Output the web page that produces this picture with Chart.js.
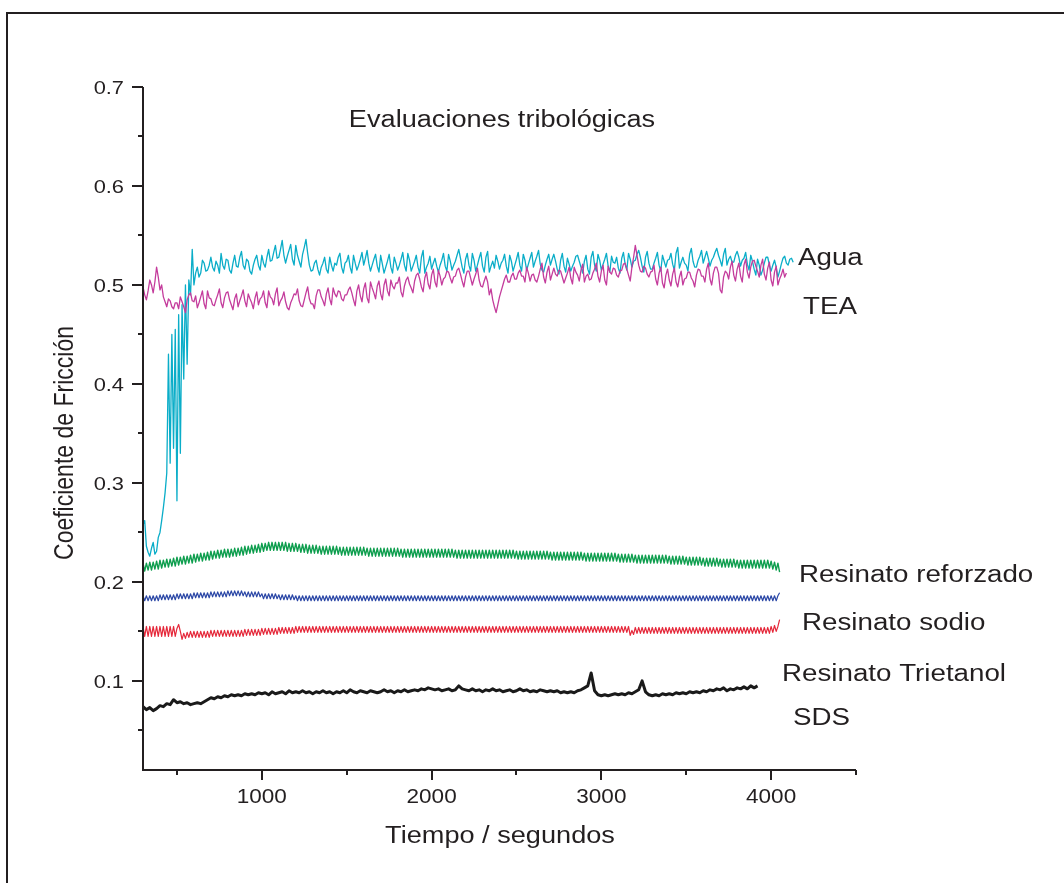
<!DOCTYPE html>
<html><head><meta charset="utf-8">
<script src="https://cdn.jsdelivr.net/npm/chart.js@4.4.1/dist/chart.umd.min.js"></script>
<style>html,body{margin:0;padding:0;background:#fff;overflow:hidden}canvas{display:block}</style>
</head><body>
<canvas id="c" width="1064" height="883"></canvas>
<script>
// ---------- DATA ----------
const xTickValues = [1000, 2000, 3000, 4000];
const xTickLabels = ['1000', '2000', '3000', '4000'];
const xMinorTicks = [500, 1500, 2500, 3500, 4500];
const yTickValues = [0.1, 0.2, 0.3, 0.4, 0.5, 0.6, 0.7];
const yTickLabels = ['0.1', '0.2', '0.3', '0.4', '0.5', '0.6', '0.7'];
const yMinorTicks = [0.05, 0.15, 0.25, 0.35, 0.45, 0.55, 0.65];

const seriesNames = ['Agua', 'TEA', 'Resinato reforzado', 'Resinato sodio', 'Resinato Trietanol', 'SDS'];

// Agua: samples every 10 s from 300 s
const aguaStart = 300, aguaStep = 10;
const agua = [
.258,.262,.236,.230,.226,.234,.240,.228,.231,.245,
.250,.262,.275,.290,.310,.430,.320,.450,.335,.455,
.282,.470,.330,.480,.405,.500,.420,.505,.490,.536,
.500,.512,.518,.508,.512,.525,.522,.514,.515,.520,
.528,.518,.514,.524,.520,.512,.532,.520,.516,.526,
.525,.515,.512,.522,.530,.519,.518,.528,.534,.520,
.516,.526,.524,.514,.511,.520,.526,.530,.520,.515,
.530,.522,.518,.528,.536,.524,.525,.533,.540,.527,
.528,.536,.545,.530,.522,.529,.535,.541,.526,.520,
.540,.530,.524,.518,.531,.538,.546,.532,.520,.514,
.515,.522,.525,.516,.510,.518,.522,.528,.516,.512,
.528,.520,.514,.522,.520,.528,.532,.518,.512,.522,
.524,.530,.518,.512,.530,.522,.515,.520,.526,.533,
.520,.527,.535,.522,.514,.520,.526,.531,.519,.513,
.530,.521,.512,.518,.524,.531,.518,.512,.528,.522,
.515,.520,.526,.533,.520,.514,.532,.525,.514,.519,
.524,.530,.518,.512,.528,.535,.512,.518,.522,.529,
.516,.522,.527,.519,.513,.520,.525,.532,.519,.514,
.531,.524,.515,.520,.524,.530,.536,.527,.518,.512,
.526,.532,.520,.514,.532,.525,.514,.520,.527,.533,
.519,.513,.528,.534,.513,.519,.524,.517,.530,.524,
.516,.522,.525,.531,.519,.512,.530,.524,.514,.520,
.526,.533,.520,.514,.531,.525,.515,.521,.527,.533,
.518,.524,.529,.535,.521,.515,.513,.520,.526,.531,
.520,.526,.531,.524,.516,.511,.525,.532,.519,.513,
.527,.521,.514,.519,.523,.529,.530,.524,.518,.512,
.524,.530,.516,.511,.528,.534,.520,.514,.531,.525,
.515,.521,.526,.532,.519,.513,.529,.523,.522,.528,
.517,.512,.527,.533,.521,.515,.532,.526,.518,.524,
.525,.531,.535,.528,.519,.513,.528,.534,.522,.516,
.516,.522,.527,.533,.520,.514,.530,.524,.518,.525,
.526,.532,.521,.515,.532,.538,.517,.523,.528,.522,
.520,.514,.531,.537,.524,.518,.518,.525,.529,.535,
.522,.528,.534,.527,.519,.525,.528,.533,.537,.530,
.525,.519,.531,.537,.520,.526,.529,.523,.523,.530,
.534,.528,.519,.525,.527,.533,.521,.515,.530,.524,
.516,.510,.526,.520,.510,.515,.522,.528,.528,.520,
.514,.520,.525,.518,.508,.514,.521,.527,.529,.522,
.520,.526,.527,.523
];

// TEA: samples every 10 s from 300 s
const teaStart = 300, teaStep = 10;
const tea = [
.498,.490,.485,.494,.505,.500,.492,.503,.518,.508,
.495,.500,.488,.483,.478,.486,.484,.478,.476,.482,
.482,.476,.488,.483,.478,.472,.485,.490,.492,.484,
.483,.489,.477,.482,.488,.494,.481,.476,.494,.487,
.486,.480,.479,.485,.490,.496,.482,.477,.487,.492,
.493,.485,.480,.475,.486,.491,.478,.484,.489,.495,
.484,.478,.491,.486,.482,.476,.487,.493,.480,.486,
.488,.494,.482,.477,.494,.488,.486,.480,.491,.497,
.479,.484,.487,.493,.483,.477,.475,.482,.486,.491,
.490,.496,.484,.479,.478,.485,.492,.498,.486,.481,
.481,.476,.489,.495,.495,.488,.484,.479,.491,.497,
.486,.480,.497,.491,.488,.494,.493,.486,.484,.490,
.490,.495,.498,.492,.485,.479,.494,.500,.489,.483,
.496,.502,.487,.482,.503,.497,.492,.486,.499,.504,
.491,.485,.500,.506,.494,.489,.505,.499,.496,.502,
.502,.508,.493,.488,.499,.505,.508,.501,.497,.492,
.504,.510,.512,.506,.498,.493,.507,.513,.501,.496,
.510,.516,.503,.498,.515,.509,.500,.506,.508,.514,
.513,.507,.502,.508,.509,.515,.517,.511,.504,.498,
.508,.514,.514,.507,.500,.506,.511,.517,.505,.499,
.498,.504,.509,.503,.490,.496,.485,.478,.472,.480,
.488,.494,.500,.506,.510,.503,.503,.509,.512,.506,
.506,.512,.515,.509,.509,.503,.518,.512,.504,.510,
.511,.505,.503,.509,.516,.522,.508,.502,.513,.519,
.505,.511,.517,.511,.509,.515,.514,.508,.502,.507,
.512,.518,.507,.501,.518,.513,.510,.504,.515,.521,
.503,.509,.511,.505,.506,.512,.516,.522,.509,.503,
.514,.520,.505,.500,.519,.513,.511,.517,.516,.510,
.508,.514,.515,.521,.522,.516,.510,.504,.518,.528,
.540,.530,.520,.514,.513,.519,.517,.511,.508,.513,
.514,.520,.506,.500,.512,.518,.502,.497,.510,.516,
.505,.499,.511,.517,.503,.498,.508,.514,.500,.506,
.507,.513,.513,.507,.504,.498,.510,.516,.515,.509,
.509,.503,.516,.522,.506,.500,.512,.518,.518,.512,
.495,.492,.508,.514,.512,.506,.518,.524,.510,.504,
.516,.522,.509,.503,.520,.526,.513,.507,.518,.524,
.525,.519,.514,.508,.520,.526,.511,.505,.517,.523,
.505,.499,.513,.519,.500,.506,.510,.516,.508,.512
];

// Resinato reforzado: samples every 10 s from 300 s
const reforzadoStart = 300, reforzadoStep = 10;
const reforzado = [
.219,.211,.219,.212,.220,.212,.220,.213,.221,.213,
.222,.214,.222,.215,.223,.215,.223,.216,.224,.216,
.225,.217,.225,.218,.226,.218,.226,.219,.227,.219,
.228,.220,.228,.221,.229,.221,.229,.222,.230,.222,
.231,.223,.231,.224,.232,.224,.232,.225,.233,.225,
.233,.225,.233,.226,.234,.226,.234,.227,.235,.227,
.236,.228,.236,.229,.237,.229,.237,.230,.238,.230,
.239,.231,.239,.232,.240,.232,.240,.232,.240,.232,
.240,.232,.240,.232,.240,.231,.239,.231,.239,.231,
.239,.231,.238,.230,.238,.230,.238,.229,.237,.229,
.237,.229,.237,.229,.236,.228,.236,.228,.236,.228,
.236,.228,.236,.228,.236,.228,.235,.227,.235,.227,
.235,.227,.235,.227,.235,.227,.235,.227,.235,.227,
.235,.227,.234,.226,.234,.226,.234,.226,.234,.226,
.234,.226,.234,.226,.234,.226,.234,.226,.234,.226,
.234,.226,.233,.225,.233,.225,.233,.225,.233,.225,
.233,.225,.233,.225,.233,.225,.233,.225,.233,.225,
.233,.225,.233,.225,.233,.225,.233,.225,.233,.225,
.233,.225,.233,.225,.232,.224,.232,.224,.232,.224,
.232,.224,.232,.224,.232,.224,.232,.224,.232,.224,
.232,.224,.232,.224,.232,.224,.232,.224,.232,.224,
.232,.224,.232,.224,.232,.224,.232,.224,.232,.224,
.231,.223,.231,.223,.231,.223,.231,.223,.231,.223,
.231,.223,.231,.223,.231,.223,.231,.223,.231,.223,
.230,.222,.230,.222,.230,.222,.230,.222,.230,.222,
.230,.222,.230,.222,.230,.222,.230,.222,.230,.222,
.229,.221,.229,.221,.229,.221,.229,.221,.229,.221,
.229,.221,.229,.221,.229,.221,.229,.221,.229,.221,
.228,.220,.228,.220,.228,.220,.228,.220,.228,.220,
.227,.219,.227,.219,.227,.219,.227,.219,.227,.219,
.227,.219,.227,.219,.227,.219,.227,.219,.227,.219,
.226,.218,.226,.218,.226,.218,.226,.218,.226,.218,
.225,.217,.225,.217,.225,.217,.225,.217,.225,.217,
.224,.216,.224,.216,.224,.216,.224,.216,.224,.216,
.223,.215,.223,.215,.223,.215,.223,.215,.223,.215,
.222,.214,.222,.214,.222,.214,.222,.214,.222,.214,
.222,.214,.222,.214,.222,.214,.222,.214,.222,.214,
.221,.213,.220,.212,.219,.210
];

// Resinato sodio: samples every 10 s from 300 s
const sodioStart = 300, sodioStep = 10;
const sodio = [
.186,.181,.186,.181,.186,.181,.186,.181,.186,.181,
.187,.182,.187,.182,.187,.182,.187,.182,.187,.182,
.188,.183,.188,.183,.188,.183,.188,.183,.188,.183,
.189,.184,.189,.184,.189,.184,.189,.184,.189,.184,
.190,.185,.190,.185,.190,.185,.190,.185,.190,.185,
.191,.186,.191,.186,.191,.186,.191,.186,.191,.186,
.190,.185,.190,.185,.190,.185,.190,.185,.190,.185,
.188,.183,.188,.183,.188,.183,.188,.183,.188,.183,
.187,.182,.187,.182,.187,.182,.187,.182,.187,.182,
.186,.181,.186,.181,.186,.181,.186,.181,.186,.181,
.186,.181,.186,.181,.186,.181,.186,.181,.186,.181,
.186,.181,.186,.181,.186,.181,.186,.181,.186,.181,
.186,.181,.186,.181,.186,.181,.186,.181,.186,.181,
.186,.181,.186,.181,.186,.181,.186,.181,.186,.181,
.186,.181,.186,.181,.186,.181,.186,.181,.186,.181,
.186,.181,.186,.181,.186,.181,.186,.181,.186,.181,
.186,.181,.186,.181,.186,.181,.186,.181,.186,.181,
.186,.181,.186,.181,.186,.181,.186,.181,.186,.181,
.186,.181,.186,.181,.186,.181,.186,.181,.186,.181,
.186,.181,.186,.181,.186,.181,.186,.181,.186,.181,
.186,.181,.186,.181,.186,.181,.186,.181,.186,.181,
.186,.181,.186,.181,.186,.181,.186,.181,.186,.181,
.186,.181,.186,.181,.186,.181,.186,.181,.186,.181,
.186,.181,.186,.181,.186,.181,.186,.181,.186,.181,
.186,.181,.186,.181,.186,.181,.186,.181,.186,.181,
.186,.181,.186,.181,.186,.181,.186,.181,.186,.181,
.186,.181,.186,.181,.186,.181,.186,.181,.186,.181,
.186,.181,.186,.181,.186,.181,.186,.181,.186,.181,
.186,.181,.186,.181,.186,.181,.186,.181,.186,.181,
.186,.181,.186,.181,.186,.181,.186,.181,.186,.181,
.186,.181,.186,.181,.186,.181,.186,.181,.186,.181,
.186,.181,.186,.181,.186,.181,.186,.181,.186,.181,
.186,.181,.186,.181,.186,.181,.186,.181,.186,.181,
.186,.181,.186,.181,.186,.181,.186,.181,.186,.181,
.186,.181,.186,.181,.186,.181,.186,.181,.186,.181,
.186,.181,.186,.181,.186,.181,.186,.181,.186,.181,
.186,.181,.186,.181,.186,.181,.186,.181,.186,.181,
.186,.181,.186,.181,.186,.189
];

// Resinato Trietanol: samples every 10 s from 300 s
const trietanolStart = 300, trietanolStep = 10;
const trietanol = [
.155,.145,.155,.145,.155,.145,.155,.145,.155,.145,
.155,.145,.155,.145,.155,.145,.155,.145,.155,.145,
.153,.157,.150,.142,.148,.143,.149,.144,.150,.144,
.150,.144,.150,.144,.150,.144,.150,.144,.150,.144,
.151,.145,.151,.145,.151,.145,.151,.145,.151,.145,
.151,.145,.151,.145,.151,.145,.151,.145,.151,.145,
.152,.146,.152,.146,.152,.146,.152,.146,.152,.146,
.153,.147,.153,.147,.153,.147,.153,.147,.153,.147,
.154,.148,.154,.148,.154,.148,.154,.148,.154,.148,
.155,.149,.155,.149,.155,.149,.155,.149,.155,.149,
.155,.149,.155,.149,.155,.149,.155,.149,.155,.149,
.155,.149,.155,.149,.155,.149,.155,.149,.155,.149,
.155,.149,.155,.149,.155,.149,.155,.149,.155,.149,
.155,.149,.155,.149,.155,.149,.155,.149,.155,.149,
.155,.149,.155,.149,.155,.149,.155,.149,.155,.149,
.155,.149,.155,.149,.155,.149,.155,.149,.155,.149,
.155,.149,.155,.149,.155,.149,.155,.149,.155,.149,
.155,.149,.155,.149,.155,.149,.155,.149,.155,.149,
.155,.149,.155,.149,.155,.149,.155,.149,.155,.149,
.155,.149,.155,.149,.155,.149,.155,.149,.155,.149,
.155,.149,.155,.149,.155,.149,.155,.149,.155,.149,
.155,.149,.155,.149,.155,.149,.155,.149,.155,.149,
.155,.149,.155,.149,.155,.149,.155,.149,.155,.149,
.155,.149,.155,.149,.155,.149,.155,.149,.155,.149,
.155,.149,.155,.149,.155,.149,.155,.149,.155,.149,
.155,.149,.155,.149,.155,.149,.155,.149,.155,.149,
.155,.149,.155,.149,.155,.149,.155,.149,.155,.149,
.155,.149,.155,.149,.155,.149,.155,.149,.155,.149,
.155,.149,.155,.149,.155,.149,.155,.146,.151,.147,
.154,.148,.154,.148,.154,.148,.154,.148,.154,.148,
.154,.148,.154,.148,.154,.148,.154,.148,.154,.148,
.154,.148,.154,.148,.154,.148,.154,.148,.154,.148,
.154,.148,.154,.148,.154,.148,.154,.148,.154,.148,
.154,.148,.154,.148,.154,.148,.154,.148,.154,.148,
.154,.148,.154,.148,.154,.148,.154,.148,.154,.148,
.154,.148,.154,.148,.154,.148,.154,.148,.154,.148,
.154,.148,.154,.148,.154,.148,.154,.148,.154,.148,
.155,.149,.156,.150,.155,.162
];

// SDS: samples every 20 s from 300 s
const sdsStart = 300, sdsStep = 20;
const sds = [
.074,.071,.073,.070,.072,
.075,.074,.077,.076,.081,
.078,.079,.077,.078,.076,
.077,.078,.077,.079,.081,
.083,.082,.084,.083,.085,
.084,.086,.085,.086,.085,
.087,.086,.087,.086,.088,
.087,.088,.086,.089,.087,
.088,.089,.087,.090,.088,
.089,.088,.090,.088,.089,
.087,.089,.088,.090,.088,
.089,.087,.089,.088,.090,
.088,.091,.089,.088,.090,
.089,.088,.090,.089,.088,
.089,.091,.089,.090,.088,
.090,.089,.091,.089,.090,
.091,.090,.092,.091,.093,
.092,.091,.092,.090,.091,
.092,.090,.091,.095,.092,
.091,.090,.092,.090,.091,
.089,.091,.090,.092,.090,
.091,.089,.090,.091,.089,
.090,.092,.090,.091,.089,
.090,.089,.091,.090,.089,
.090,.089,.090,.088,.089,
.088,.089,.088,.090,.091,
.093,.095,.108,.090,.086,
.085,.086,.085,.086,.087,
.086,.087,.086,.088,.087,
.089,.091,.100,.089,.086,
.085,.086,.085,.087,.086,
.087,.086,.088,.087,.088,
.087,.089,.088,.089,.088,
.090,.089,.091,.090,.092,
.091,.093,.090,.092,.091,
.093,.092,.094,.092,.095,
.093,.095
];

// ---------- BUILD ----------
const toPoints = (start, step, vals) => vals.map((v, i) => ({ x: start + i * step, y: v }));

const FONT = '"Liberation Sans", Arial, Helvetica, sans-serif';
const TEXT = '#231f20';
const SX = 1.18; // horizontal stretch of the reference's lettering

function sText(ctx, str, x, y, size, align, sx, rotate) {
  ctx.save();
  ctx.translate(x, y);
  ctx.scale(sx, 1);
  if (rotate) ctx.rotate(-Math.PI / 2);
  ctx.font = size + 'px ' + FONT;
  ctx.fillStyle = TEXT;
  ctx.textAlign = align;
  ctx.textBaseline = 'alphabetic';
  ctx.fillText(str, 0, 0);
  ctx.restore();
}

const decor = {
  id: 'decor',
  afterDraw(chart) {
    const ctx = chart.ctx;
    const xs = chart.scales.x, ys = chart.scales.y;
    const L = chart.chartArea.left, R = chart.chartArea.right, T = chart.chartArea.top, B = chart.chartArea.bottom;
    ctx.save();
    ctx.strokeStyle = '#231f20';
    ctx.lineWidth = 2;
    ctx.beginPath();
    ctx.moveTo(6, 13); ctx.lineTo(1064, 13);
    ctx.moveTo(7, 12); ctx.lineTo(7, 883);
    ctx.stroke();
    ctx.beginPath();
    ctx.moveTo(L, T); ctx.lineTo(L, B + 1);
    ctx.moveTo(L - 1, B); ctx.lineTo(R, B);
    ctx.stroke();
    ctx.beginPath();
    yTickValues.forEach(v => { const y = Math.round(ys.getPixelForValue(v)); ctx.moveTo(L, y); ctx.lineTo(L - 11, y); });
    yMinorTicks.forEach(v => { const y = Math.round(ys.getPixelForValue(v)); ctx.moveTo(L, y); ctx.lineTo(L - 5, y); });
    xTickValues.forEach(v => { const x = Math.round(xs.getPixelForValue(v)); ctx.moveTo(x, B); ctx.lineTo(x, B + 10); });
    xMinorTicks.forEach(v => { const x = Math.round(xs.getPixelForValue(v)); ctx.moveTo(x, B); ctx.lineTo(x, B + 5); });
    ctx.stroke();
    ctx.restore();
    yTickValues.forEach((v, i) => sText(ctx, yTickLabels[i], L - 19, ys.getPixelForValue(v) + 7, 19, 'right', 1.15));
    xTickValues.forEach((v, i) => sText(ctx, xTickLabels[i], xs.getPixelForValue(v), B + 33, 20.5, 'center', 1.1));
    sText(ctx, 'Evaluaciones tribológicas', 502, 127, 23, 'center', SX);
    sText(ctx, 'Tiempo / segundos', 500, 843, 23, 'center', SX);
    sText(ctx, 'Coeficiente de Fricción', 73, 443, 23, 'center', SX, true);
    sText(ctx, seriesNames[0], 798, 265, 23.5, 'left', SX);
    sText(ctx, seriesNames[1], 803, 314, 23.5, 'left', SX);
    sText(ctx, seriesNames[2], 799, 582, 23.5, 'left', SX);
    sText(ctx, seriesNames[3], 802, 630, 23.5, 'left', SX);
    sText(ctx, seriesNames[4], 782, 681, 23.5, 'left', SX);
    sText(ctx, seriesNames[5], 793, 725, 23.5, 'left', SX);
  }
};

const ds = (label, pts, color, w) => ({
  label, data: pts, borderColor: color, backgroundColor: color, borderWidth: w,
  pointRadius: 0, tension: 0, fill: false, borderJoinStyle: 'round'
});

new Chart(document.getElementById('c'), {
  type: 'line',
  data: {
    datasets: [
      ds(seriesNames[1], toPoints(teaStart, teaStep, tea), '#c43c9c', 1.3),
      ds(seriesNames[0], toPoints(aguaStart, aguaStep, agua), '#0aadc8', 1.3),
      ds(seriesNames[2], toPoints(reforzadoStart, reforzadoStep, reforzado), '#0e9e4e', 1.4),
      ds(seriesNames[3], toPoints(sodioStart, sodioStep, sodio), '#2b47a6', 1.2),
      ds(seriesNames[4], toPoints(trietanolStart, trietanolStep, trietanol), '#e5283a', 1.2),
      ds(seriesNames[5], toPoints(sdsStart, sdsStep, sds), '#1a1a1a', 3)
    ]
  },
  options: {
    responsive: false,
    animation: false,
    devicePixelRatio: 1,
    layout: { padding: { left: 143, right: 208, top: 87, bottom: 113 } },
    plugins: { legend: { display: false }, tooltip: { enabled: false } },
    scales: {
      x: { type: 'linear', min: 300, max: 4500, display: false },
      y: { type: 'linear', min: 0.01, max: 0.7, display: false }
    }
  },
  plugins: [decor]
});
</script>
</body></html>
